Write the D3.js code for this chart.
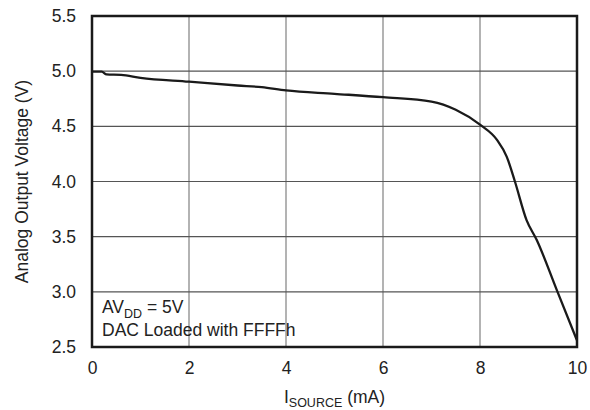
<!DOCTYPE html>
<html><head><meta charset="utf-8">
<script src="https://cdn.jsdelivr.net/npm/d3@7"></script>
<style>body{margin:0;background:#fff}svg{display:block}text{font-family:"Liberation Sans",Arial,sans-serif;fill:#222}</style>
</head><body>
<script>
const xTicks=[0,2,4,6,8,10];
const yTicks=[2.5,3.0,3.5,4.0,4.5,5.0,5.5];
const current=[0,0.2,0.3,0.6,1.0,2.0,3.0,3.5,4.0,5.0,6.0,7.0,7.5,8.0,8.35,8.55,8.72,8.96,9.17,9.58,10.0];
const voltage=[4.995,4.995,4.97,4.966,4.94,4.905,4.87,4.855,4.825,4.795,4.764,4.724,4.65,4.515,4.377,4.226,4.0,3.65,3.47,3.02,2.56];

const W=590,H=410,m={l:92,r:13,t:16,b:63};
const FS=17.5, SUB=12.5;
const svg=d3.select("body").append("svg").attr("width",W).attr("height",H);
const x=d3.scaleLinear().domain([0,10]).range([m.l,W-m.r]);
const y=d3.scaleLinear().domain([2.5,5.5]).range([H-m.b,m.t]);

const g=svg.append("g");
g.selectAll("line.vx").data(xTicks.slice(1,-1)).join("line")
 .attr("x1",d=>x(d)).attr("x2",d=>x(d)).attr("y1",y(2.5)).attr("y2",y(5.5))
 .attr("stroke","#808080").attr("stroke-width",1.2);
g.selectAll("line.hy").data(yTicks.slice(1,-1)).join("line")
 .attr("y1",d=>y(d)).attr("y2",d=>y(d)).attr("x1",x(0)).attr("x2",x(10))
 .attr("stroke","#555").attr("stroke-width",1.2);

svg.append("path").datum(current.map((c,i)=>[c,voltage[i]]))
 .attr("d",d3.line().x(d=>x(d[0])).y(d=>y(d[1])).curve(d3.curveMonotoneX))
 .attr("fill","none").attr("stroke","#1a1a1a").attr("stroke-width",2.3);

svg.append("rect").attr("x",x(0)).attr("y",y(5.5)).attr("width",x(10)-x(0)).attr("height",y(2.5)-y(5.5))
 .attr("fill","none").attr("stroke","#1a1a1a").attr("stroke-width",2.5);

const xa=svg.append("g").attr("transform",`translate(0,${y(2.5)})`)
 .call(d3.axisBottom(x).tickValues(xTicks).tickSize(0).tickPadding(15).tickFormat(d3.format("d")));
xa.select(".domain").remove();
xa.selectAll("text").attr("font-size",FS).attr("font-family","Liberation Sans, Arial, sans-serif").attr("fill","#222");
const ya=svg.append("g").attr("transform",`translate(${x(0)},0)`)
 .call(d3.axisLeft(y).tickValues(yTicks).tickSize(0).tickPadding(16).tickFormat(d3.format(".1f")));
ya.select(".domain").remove();
ya.selectAll("text").attr("font-size",FS).attr("font-family","Liberation Sans, Arial, sans-serif").attr("fill","#222");

const t1=svg.append("text").attr("x",102).attr("y",313).attr("font-size",FS);
t1.append("tspan").text("AV");
t1.append("tspan").attr("font-size",SUB).attr("dy",5).text("DD");
t1.append("tspan").attr("dy",-5).text(" = 5V");
svg.append("text").attr("x",102).attr("y",336).attr("font-size",FS).text("DAC Loaded with FFFFh");

const xt=svg.append("text").attr("x",(x(0)+x(10))/2).attr("y",403).attr("text-anchor","middle").attr("font-size",FS);
xt.append("tspan").text("I");
xt.append("tspan").attr("font-size",SUB).attr("dy",4).text("SOURCE");
xt.append("tspan").attr("dy",-4).text(" (mA)");

svg.append("text").attr("transform",`translate(28,${(y(2.5)+y(5.5))/2}) rotate(-90)`)
 .attr("text-anchor","middle").attr("font-size",FS).text("Analog Output Voltage (V)");
</script>
</body></html>
